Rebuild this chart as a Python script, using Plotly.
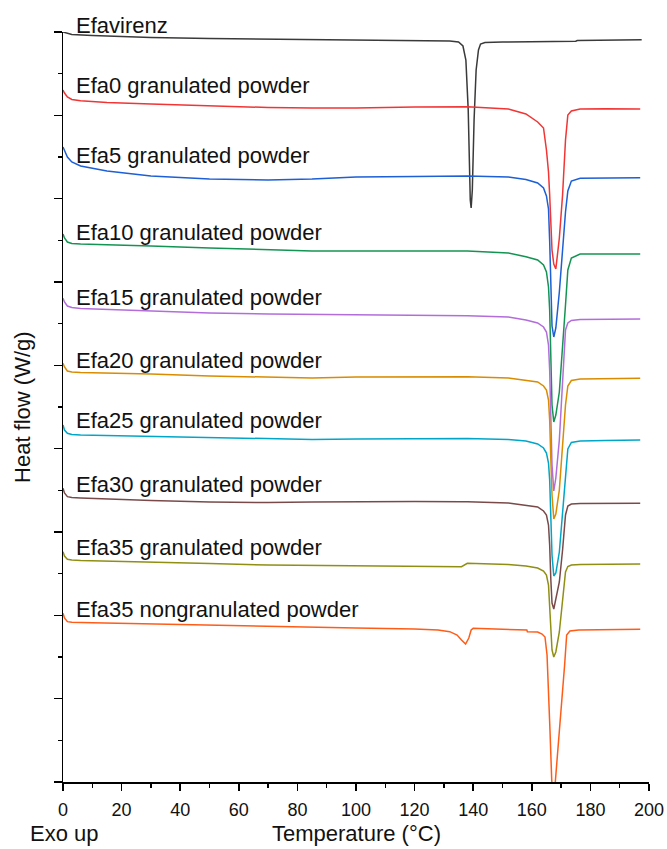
import plotly.graph_objects as go

# ---------------- data ----------------
series_names = [
    "Efavirenz",
    "Efa0 granulated powder",
    "Efa5 granulated powder",
    "Efa10 granulated powder",
    "Efa15 granulated powder",
    "Efa20 granulated powder",
    "Efa25 granulated powder",
    "Efa30 granulated powder",
    "Efa35 granulated powder",
    "Efa35 nongranulated powder",
]
series_colors = ["#3a3a3a", "#f23434", "#1c5fd6", "#149452", "#b26ddb",
                 "#d98c00", "#00a6c8", "#7a4a4a", "#8f8f14", "#ff5c17"]

# Efavirenz (pure drug)
T_efv = [0, 1, 3, 10, 30, 50, 70, 100, 120, 132, 135, 136.5, 137.5, 138.3, 139, 139.3,
         139.7, 140.3, 141, 141.8, 142.5, 144, 150, 170, 175, 175.5, 185, 197.5]
Y_efv = [9.000, 8.988, 8.970, 8.958, 8.934, 8.922, 8.913, 8.901, 8.896, 8.892, 8.880,
         8.832, 8.664, 8.064, 6.984, 6.888, 7.104, 7.944, 8.544, 8.784, 8.856, 8.874,
         8.880, 8.886, 8.889, 8.898, 8.901, 8.908]

# shared temperature grid for the granulated powders
T_gran = [0, 0.5, 1.5, 3, 6, 15, 30, 50, 70, 85, 100, 120, 136, 138, 152, 158, 162, 164,
          165, 165.7, 166.1, 166.5, 166.9, 167.5, 168.2, 169.4, 170.5, 171.5, 172.3,
          173.5, 176.5, 185, 197]

Y_efa0 = [8.304, 8.268, 8.220, 8.190, 8.175, 8.154, 8.136, 8.112, 8.094, 8.088, 8.088,
          8.100, 8.104, 8.104, 8.076, 8.016, 7.920, 7.848, 7.584, 7.320, 7.044, 6.684,
          6.384, 6.216, 6.156, 6.528, 7.044, 7.704, 8.004, 8.052, 8.076, 8.080, 8.076]
Y_efa5 = [7.620, 7.572, 7.500, 7.440, 7.392, 7.332, 7.272, 7.236, 7.224, 7.236, 7.260,
          7.266, 7.272, 7.272, 7.260, 7.230, 7.188, 7.128, 7.032, 6.876, 6.492, 5.820,
          5.472, 5.340, 5.448, 5.880, 6.444, 6.840, 7.092, 7.212, 7.245, 7.248, 7.252]
Y_efa10 = [6.576, 6.528, 6.480, 6.462, 6.456, 6.444, 6.432, 6.408, 6.384, 6.372, 6.372,
           6.376, 6.372, 6.372, 6.348, 6.304, 6.264, 6.204, 6.120, 5.940, 5.664, 4.944,
           4.524, 4.320, 4.404, 4.680, 5.184, 5.724, 6.144, 6.288, 6.336, 6.336, 6.336]
Y_efa15 = [5.805, 5.760, 5.712, 5.694, 5.682, 5.670, 5.652, 5.628, 5.616, 5.610, 5.604,
           5.598, 5.596, 5.596, 5.580, 5.544, 5.508, 5.460, 5.400, 5.244, 4.944, 4.344,
           3.804, 3.492, 3.648, 4.104, 4.800, 5.424, 5.508, 5.538, 5.550, 5.556, 5.556]
Y_efa20 = [5.025, 4.980, 4.932, 4.920, 4.914, 4.908, 4.896, 4.872, 4.854, 4.848, 4.860,
           4.860, 4.864, 4.864, 4.848, 4.824, 4.800, 4.752, 4.704, 4.584, 4.344, 3.864,
           3.444, 3.156, 3.216, 3.504, 4.044, 4.524, 4.752, 4.818, 4.836, 4.842, 4.844]
Y_efa25 = [4.284, 4.224, 4.185, 4.170, 4.164, 4.158, 4.146, 4.128, 4.116, 4.110, 4.116,
           4.116, 4.122, 4.122, 4.110, 4.092, 4.056, 4.008, 3.948, 3.828, 3.624, 3.204,
           2.724, 2.472, 2.508, 2.760, 3.240, 3.744, 3.996, 4.074, 4.092, 4.098, 4.104]
Y_efa30 = [3.525, 3.468, 3.424, 3.414, 3.408, 3.396, 3.378, 3.360, 3.354, 3.360, 3.366,
           3.366, 3.364, 3.364, 3.348, 3.324, 3.300, 3.252, 3.204, 3.084, 2.844, 2.424,
           2.148, 2.076, 2.208, 2.400, 2.784, 3.204, 3.312, 3.336, 3.342, 3.345, 3.345]
Y_efa35 = [2.764, 2.712, 2.673, 2.664, 2.658, 2.652, 2.640, 2.622, 2.604, 2.598, 2.592,
           2.592, 2.584, 2.625, 2.610, 2.592, 2.568, 2.532, 2.484, 2.364, 2.124, 1.824,
           1.584, 1.500, 1.560, 1.800, 2.208, 2.520, 2.586, 2.604, 2.610, 2.616, 2.616]

# Efa35 nongranulated powder
T_ng = [0, 0.5, 1.5, 3, 10, 30, 60, 80, 100, 120, 128, 132, 134.5, 136, 137.4, 138.5,
        139.3, 140, 150, 158.3, 158.5, 162, 163.5, 164.5, 165.2, 165.6, 166.2, 166.8,
        167.3, 167.8, 168.5, 169.3, 170.3, 171.2, 171.9, 173, 176, 197]
Y_ng = [2.024, 1.968, 1.924, 1.916, 1.912, 1.896, 1.872, 1.860, 1.848, 1.836, 1.824,
        1.804, 1.764, 1.704, 1.656, 1.728, 1.824, 1.844, 1.836, 1.824, 1.804, 1.800,
        1.776, 1.740, 1.524, 1.224, 0.624, 0.024, -0.216, -0.096, 0.204, 0.504, 0.984,
        1.404, 1.764, 1.812, 1.824, 1.832]

series_T = [T_efv] + [T_gran] * 8 + [T_ng]
series_Y = [Y_efv, Y_efa0, Y_efa5, Y_efa10, Y_efa15, Y_efa20, Y_efa25, Y_efa30, Y_efa35, Y_ng]

# label vertical anchors (fraction of the plot height)
label_y = [1.0093, 0.9287, 0.8353, 0.7327, 0.6460, 0.5620, 0.4820, 0.3967, 0.3127, 0.2300]

x_ticks = [0, 20, 40, 60, 80, 100, 120, 140, 160, 180, 200]

# ---------------- figure ----------------
FONT = "Liberation Sans, Arial, Helvetica, sans-serif"
fig = go.Figure()
for name, T, Y, c in zip(series_names, series_T, series_Y, series_colors):
    fig.add_trace(go.Scatter(x=T, y=Y, mode="lines", name=name,
                             line=dict(color=c, width=1.5), showlegend=False))

for name, ly in zip(series_names, label_y):
    fig.add_annotation(x=3.8, y=ly, xref="x", yref="paper", text=name, showarrow=False,
                       xanchor="left", yanchor="middle",
                       font=dict(family=FONT, size=22, color="#111111"))

fig.add_annotation(x=-0.07, y=0.5, xref="paper", yref="paper", text="Heat flow (W/g)",
                   textangle=-90, showarrow=False, xanchor="center", yanchor="middle",
                   font=dict(family=FONT, size=22, color="#111111"))
fig.add_annotation(x=0.5, y=-0.068, xref="paper", yref="paper", text="Temperature (°C)",
                   showarrow=False, xanchor="center", yanchor="middle",
                   font=dict(family=FONT, size=22, color="#111111"))
fig.add_annotation(x=-0.06, y=-0.068, xref="paper", yref="paper", text="Exo up",
                   showarrow=False, xanchor="left", yanchor="middle",
                   font=dict(family=FONT, size=22, color="#111111"))

fig.update_layout(
    width=667, height=849,
    margin=dict(l=63, r=18, t=32, b=67),
    plot_bgcolor="white", paper_bgcolor="white",
    font=dict(family=FONT, color="#111111"),
)
fig.update_xaxes(
    range=[0, 200], tickvals=x_ticks, ticktext=[str(v) for v in x_ticks],
    ticks="outside", ticklen=7, tickwidth=1.5, tickcolor="black",
    minor=dict(dtick=10, tick0=0, ticks="outside", ticklen=4, tickwidth=1.5, tickcolor="black"),
    showline=True, linecolor="black", linewidth=1.5,
    showgrid=False, zeroline=False, automargin=False, ticklabelstandoff=4,
    tickfont=dict(family=FONT, size=18, color="#111111"),
)
fig.update_yaxes(
    range=[0, 9], dtick=1, tick0=0, showticklabels=False,
    ticks="outside", ticklen=8, tickwidth=1.5, tickcolor="black",
    minor=dict(dtick=0.5, tick0=0, ticks="outside", ticklen=4, tickwidth=1.5, tickcolor="black"),
    showline=True, linecolor="black", linewidth=1.5,
    showgrid=False, zeroline=False, automargin=False,
)

fig.write_html("out.html",
               config={"displayModeBar": False, "staticPlot": True},
               post_script="document.body.style.margin='0';document.body.style.overflow='hidden';")
